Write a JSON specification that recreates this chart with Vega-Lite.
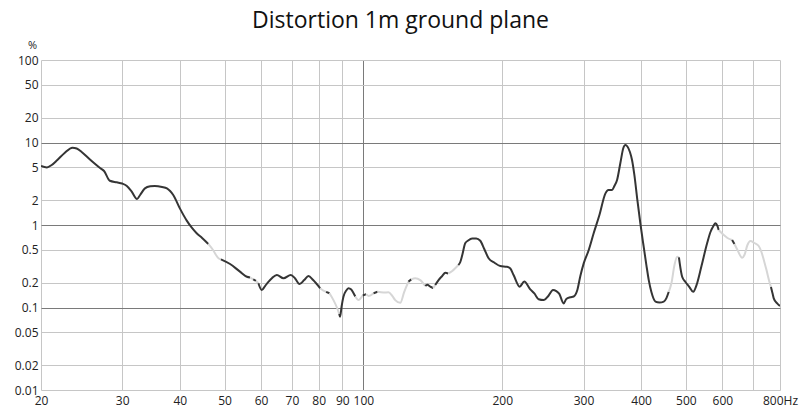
{
  "$schema": "https://vega.github.io/schema/vega-lite/v6.json",
  "width": 739,
  "height": 330,
  "autosize": {"type": "none"},
  "padding": {"left": 41, "top": 60, "right": 20, "bottom": 25},
  "background": "#ffffff",
  "title": {
    "text": "Distortion 1m ground plane",
    "font": "Open Sans",
    "fontSize": 23,
    "fontWeight": "normal",
    "color": "#111111",
    "baseline": "alphabetic",
    "offset": -12,
    "dx": -10
  },
  "config": {
    "font": "Open Sans",
    "view": {"stroke": null},
    "axis": {"domain": false, "ticks": false, "labelFont": "Open Sans", "labelFontSize": 12, "labelColor": "#222222"}
  },
  "data": {
    "values": [
      {"f": 20, "v": 5.19, "s": 1, "c": "dark"},
      {"f": 20.6, "v": 4.98, "s": 1, "c": "dark"},
      {"f": 21.1, "v": 5.34, "s": 1, "c": "dark"},
      {"f": 21.7, "v": 6.14, "s": 1, "c": "dark"},
      {"f": 22.5, "v": 7.46, "s": 1, "c": "dark"},
      {"f": 23.4, "v": 8.65, "s": 1, "c": "dark"},
      {"f": 23.9, "v": 8.46, "s": 1, "c": "dark"},
      {"f": 24.5, "v": 7.67, "s": 1, "c": "dark"},
      {"f": 25.5, "v": 6.26, "s": 1, "c": "dark"},
      {"f": 26.9, "v": 4.87, "s": 1, "c": "dark"},
      {"f": 27.4, "v": 4.51, "s": 1, "c": "dark"},
      {"f": 28.2, "v": 3.44, "s": 1, "c": "dark"},
      {"f": 29.2, "v": 3.29, "s": 1, "c": "dark"},
      {"f": 30.0, "v": 3.18, "s": 1, "c": "dark"},
      {"f": 30.7, "v": 2.97, "s": 1, "c": "dark"},
      {"f": 31.4, "v": 2.58, "s": 1, "c": "dark"},
      {"f": 32.3, "v": 2.07, "s": 1, "c": "dark"},
      {"f": 32.8, "v": 2.31, "s": 1, "c": "dark"},
      {"f": 33.6, "v": 2.78, "s": 1, "c": "dark"},
      {"f": 34.5, "v": 2.94, "s": 1, "c": "dark"},
      {"f": 35.3, "v": 2.97, "s": 1, "c": "dark"},
      {"f": 36.6, "v": 2.89, "s": 1, "c": "dark"},
      {"f": 37.5, "v": 2.78, "s": 1, "c": "dark"},
      {"f": 38.1, "v": 2.58, "s": 1, "c": "dark"},
      {"f": 38.7, "v": 2.31, "s": 1, "c": "dark"},
      {"f": 40.0, "v": 1.59, "s": 1, "c": "dark"},
      {"f": 41.4, "v": 1.13, "s": 1, "c": "dark"},
      {"f": 42.5, "v": 0.92, "s": 1, "c": "dark"},
      {"f": 43.5, "v": 0.793, "s": 1, "c": "dark"},
      {"f": 44.7, "v": 0.696, "s": 1, "c": "dark"},
      {"f": 46.1, "v": 0.589, "s": 1, "c": "dark"},
      {"f": 46.1, "v": 0.589, "s": 2, "c": "light"},
      {"f": 47.2, "v": 0.498, "s": 2, "c": "light"},
      {"f": 48.5, "v": 0.395, "s": 2, "c": "light"},
      {"f": 49.1, "v": 0.384, "s": 2, "c": "light"},
      {"f": 49.1, "v": 0.384, "s": 3, "c": "dark"},
      {"f": 51.4, "v": 0.337, "s": 3, "c": "dark"},
      {"f": 54.0, "v": 0.272, "s": 3, "c": "dark"},
      {"f": 55.9, "v": 0.236, "s": 3, "c": "dark"},
      {"f": 56.8, "v": 0.231, "s": 3, "c": "dark"},
      {"f": 56.8, "v": 0.231, "s": 4, "c": "light"},
      {"f": 57.7, "v": 0.219, "s": 4, "c": "light"},
      {"f": 57.7, "v": 0.219, "s": 5, "c": "dark"},
      {"f": 58.5, "v": 0.21, "s": 5, "c": "dark"},
      {"f": 58.5, "v": 0.21, "s": 6, "c": "light"},
      {"f": 59.2, "v": 0.197, "s": 6, "c": "light"},
      {"f": 59.2, "v": 0.197, "s": 7, "c": "dark"},
      {"f": 60.2, "v": 0.163, "s": 7, "c": "dark"},
      {"f": 61.2, "v": 0.182, "s": 7, "c": "dark"},
      {"f": 62.3, "v": 0.206, "s": 7, "c": "dark"},
      {"f": 63.4, "v": 0.228, "s": 7, "c": "dark"},
      {"f": 64.9, "v": 0.248, "s": 7, "c": "dark"},
      {"f": 67.1, "v": 0.226, "s": 7, "c": "dark"},
      {"f": 69.6, "v": 0.248, "s": 7, "c": "dark"},
      {"f": 71.1, "v": 0.225, "s": 7, "c": "dark"},
      {"f": 72.7, "v": 0.193, "s": 7, "c": "dark"},
      {"f": 74.4, "v": 0.215, "s": 7, "c": "dark"},
      {"f": 76.0, "v": 0.241, "s": 7, "c": "dark"},
      {"f": 77.8, "v": 0.215, "s": 7, "c": "dark"},
      {"f": 80.6, "v": 0.171, "s": 7, "c": "dark"},
      {"f": 80.6, "v": 0.171, "s": 8, "c": "light"},
      {"f": 81.9, "v": 0.16, "s": 8, "c": "light"},
      {"f": 83.0, "v": 0.155, "s": 8, "c": "light"},
      {"f": 83.0, "v": 0.155, "s": 9, "c": "dark"},
      {"f": 84.4, "v": 0.149, "s": 9, "c": "dark"},
      {"f": 84.4, "v": 0.149, "s": 10, "c": "light"},
      {"f": 86.1, "v": 0.123, "s": 10, "c": "light"},
      {"f": 87.7, "v": 0.0986, "s": 10, "c": "light"},
      {"f": 88.6, "v": 0.0834, "s": 10, "c": "light"},
      {"f": 88.6, "v": 0.0834, "s": 11, "c": "dark"},
      {"f": 89.0, "v": 0.0773, "s": 11, "c": "dark"},
      {"f": 89.7, "v": 0.104, "s": 11, "c": "dark"},
      {"f": 90.5, "v": 0.135, "s": 11, "c": "dark"},
      {"f": 91.8, "v": 0.161, "s": 11, "c": "dark"},
      {"f": 92.8, "v": 0.171, "s": 11, "c": "dark"},
      {"f": 94.1, "v": 0.165, "s": 11, "c": "dark"},
      {"f": 95.2, "v": 0.149, "s": 11, "c": "dark"},
      {"f": 96.0, "v": 0.136, "s": 11, "c": "dark"},
      {"f": 96.0, "v": 0.136, "s": 12, "c": "light"},
      {"f": 97.6, "v": 0.123, "s": 12, "c": "light"},
      {"f": 98.9, "v": 0.132, "s": 12, "c": "light"},
      {"f": 99.7, "v": 0.14, "s": 12, "c": "light"},
      {"f": 99.7, "v": 0.14, "s": 13, "c": "dark"},
      {"f": 101.4, "v": 0.145, "s": 13, "c": "dark"},
      {"f": 101.4, "v": 0.145, "s": 14, "c": "light"},
      {"f": 102.6, "v": 0.138, "s": 14, "c": "light"},
      {"f": 105.2, "v": 0.149, "s": 14, "c": "light"},
      {"f": 105.2, "v": 0.149, "s": 15, "c": "dark"},
      {"f": 107.3, "v": 0.155, "s": 15, "c": "dark"},
      {"f": 107.3, "v": 0.155, "s": 16, "c": "light"},
      {"f": 110.5, "v": 0.152, "s": 16, "c": "light"},
      {"f": 113.3, "v": 0.153, "s": 16, "c": "light"},
      {"f": 115.5, "v": 0.138, "s": 16, "c": "light"},
      {"f": 117.2, "v": 0.123, "s": 16, "c": "light"},
      {"f": 120.2, "v": 0.114, "s": 16, "c": "light"},
      {"f": 122.6, "v": 0.155, "s": 16, "c": "light"},
      {"f": 125.2, "v": 0.206, "s": 16, "c": "light"},
      {"f": 125.2, "v": 0.206, "s": 17, "c": "dark"},
      {"f": 127.0, "v": 0.219, "s": 17, "c": "dark"},
      {"f": 127.0, "v": 0.219, "s": 18, "c": "light"},
      {"f": 129.5, "v": 0.226, "s": 18, "c": "light"},
      {"f": 132.8, "v": 0.215, "s": 18, "c": "light"},
      {"f": 136.2, "v": 0.182, "s": 18, "c": "light"},
      {"f": 136.2, "v": 0.182, "s": 19, "c": "dark"},
      {"f": 137.5, "v": 0.189, "s": 19, "c": "dark"},
      {"f": 139.6, "v": 0.179, "s": 19, "c": "dark"},
      {"f": 141.7, "v": 0.172, "s": 19, "c": "dark"},
      {"f": 141.7, "v": 0.172, "s": 20, "c": "light"},
      {"f": 143.1, "v": 0.187, "s": 20, "c": "light"},
      {"f": 143.1, "v": 0.187, "s": 21, "c": "dark"},
      {"f": 145.5, "v": 0.215, "s": 21, "c": "dark"},
      {"f": 148.2, "v": 0.241, "s": 21, "c": "dark"},
      {"f": 150.5, "v": 0.264, "s": 21, "c": "dark"},
      {"f": 152.7, "v": 0.258, "s": 21, "c": "dark"},
      {"f": 152.7, "v": 0.258, "s": 22, "c": "light"},
      {"f": 155.8, "v": 0.277, "s": 22, "c": "light"},
      {"f": 158.1, "v": 0.299, "s": 22, "c": "light"},
      {"f": 160.6, "v": 0.327, "s": 22, "c": "light"},
      {"f": 160.6, "v": 0.327, "s": 23, "c": "dark"},
      {"f": 162.2, "v": 0.356, "s": 23, "c": "dark"},
      {"f": 163.8, "v": 0.433, "s": 23, "c": "dark"},
      {"f": 166.2, "v": 0.6, "s": 23, "c": "dark"},
      {"f": 168.7, "v": 0.649, "s": 23, "c": "dark"},
      {"f": 172.1, "v": 0.686, "s": 23, "c": "dark"},
      {"f": 175.6, "v": 0.686, "s": 23, "c": "dark"},
      {"f": 179.2, "v": 0.645, "s": 23, "c": "dark"},
      {"f": 182.8, "v": 0.512, "s": 23, "c": "dark"},
      {"f": 186.8, "v": 0.395, "s": 23, "c": "dark"},
      {"f": 192.1, "v": 0.351, "s": 23, "c": "dark"},
      {"f": 198.0, "v": 0.318, "s": 23, "c": "dark"},
      {"f": 204.8, "v": 0.312, "s": 23, "c": "dark"},
      {"f": 208.2, "v": 0.297, "s": 23, "c": "dark"},
      {"f": 211.6, "v": 0.248, "s": 23, "c": "dark"},
      {"f": 218.1, "v": 0.179, "s": 23, "c": "dark"},
      {"f": 223.2, "v": 0.206, "s": 23, "c": "dark"},
      {"f": 230.0, "v": 0.166, "s": 23, "c": "dark"},
      {"f": 234.7, "v": 0.148, "s": 23, "c": "dark"},
      {"f": 239.8, "v": 0.126, "s": 23, "c": "dark"},
      {"f": 245.8, "v": 0.123, "s": 23, "c": "dark"},
      {"f": 251.7, "v": 0.138, "s": 23, "c": "dark"},
      {"f": 257.6, "v": 0.163, "s": 23, "c": "dark"},
      {"f": 261.9, "v": 0.158, "s": 23, "c": "dark"},
      {"f": 265.9, "v": 0.146, "s": 23, "c": "dark"},
      {"f": 271.7, "v": 0.112, "s": 23, "c": "dark"},
      {"f": 275.3, "v": 0.127, "s": 23, "c": "dark"},
      {"f": 280.9, "v": 0.133, "s": 23, "c": "dark"},
      {"f": 285.6, "v": 0.136, "s": 23, "c": "dark"},
      {"f": 290.9, "v": 0.163, "s": 23, "c": "dark"},
      {"f": 295.3, "v": 0.241, "s": 23, "c": "dark"},
      {"f": 300.3, "v": 0.343, "s": 23, "c": "dark"},
      {"f": 307.4, "v": 0.484, "s": 23, "c": "dark"},
      {"f": 315.6, "v": 0.793, "s": 23, "c": "dark"},
      {"f": 324.8, "v": 1.32, "s": 23, "c": "dark"},
      {"f": 334.7, "v": 2.42, "s": 23, "c": "dark"},
      {"f": 339.7, "v": 2.66, "s": 23, "c": "dark"},
      {"f": 346.0, "v": 2.66, "s": 23, "c": "dark"},
      {"f": 350.0, "v": 2.97, "s": 23, "c": "dark"},
      {"f": 354.7, "v": 3.51, "s": 23, "c": "dark"},
      {"f": 360.6, "v": 5.64, "s": 23, "c": "dark"},
      {"f": 366.0, "v": 8.58, "s": 23, "c": "dark"},
      {"f": 369.8, "v": 9.33, "s": 23, "c": "dark"},
      {"f": 373.5, "v": 8.94, "s": 23, "c": "dark"},
      {"f": 378.2, "v": 7.67, "s": 23, "c": "dark"},
      {"f": 382.2, "v": 6.14, "s": 23, "c": "dark"},
      {"f": 386.7, "v": 4.04, "s": 23, "c": "dark"},
      {"f": 392.5, "v": 2.01, "s": 23, "c": "dark"},
      {"f": 398.4, "v": 1.05, "s": 23, "c": "dark"},
      {"f": 404.6, "v": 0.572, "s": 23, "c": "dark"},
      {"f": 410.6, "v": 0.327, "s": 23, "c": "dark"},
      {"f": 415.5, "v": 0.215, "s": 23, "c": "dark"},
      {"f": 421.0, "v": 0.154, "s": 23, "c": "dark"},
      {"f": 429.6, "v": 0.118, "s": 23, "c": "dark"},
      {"f": 438.3, "v": 0.115, "s": 23, "c": "dark"},
      {"f": 447.8, "v": 0.118, "s": 23, "c": "dark"},
      {"f": 453.8, "v": 0.13, "s": 23, "c": "dark"},
      {"f": 459.1, "v": 0.155, "s": 23, "c": "dark"},
      {"f": 459.1, "v": 0.155, "s": 24, "c": "light"},
      {"f": 465.4, "v": 0.198, "s": 24, "c": "light"},
      {"f": 472.4, "v": 0.327, "s": 24, "c": "light"},
      {"f": 478.8, "v": 0.413, "s": 24, "c": "light"},
      {"f": 483.1, "v": 0.404, "s": 24, "c": "light"},
      {"f": 483.1, "v": 0.404, "s": 25, "c": "dark"},
      {"f": 485.0, "v": 0.343, "s": 25, "c": "dark"},
      {"f": 490.9, "v": 0.236, "s": 25, "c": "dark"},
      {"f": 499.0, "v": 0.204, "s": 25, "c": "dark"},
      {"f": 509.0, "v": 0.177, "s": 25, "c": "dark"},
      {"f": 518.6, "v": 0.155, "s": 25, "c": "dark"},
      {"f": 529.0, "v": 0.197, "s": 25, "c": "dark"},
      {"f": 540.6, "v": 0.318, "s": 25, "c": "dark"},
      {"f": 556.0, "v": 0.6, "s": 25, "c": "dark"},
      {"f": 565.4, "v": 0.823, "s": 25, "c": "dark"},
      {"f": 573.8, "v": 0.973, "s": 25, "c": "dark"},
      {"f": 579.5, "v": 1.05, "s": 25, "c": "dark"},
      {"f": 585.3, "v": 0.973, "s": 25, "c": "dark"},
      {"f": 589.0, "v": 0.87, "s": 25, "c": "dark"},
      {"f": 589.0, "v": 0.87, "s": 26, "c": "light"},
      {"f": 604.0, "v": 0.757, "s": 26, "c": "light"},
      {"f": 615.4, "v": 0.696, "s": 26, "c": "light"},
      {"f": 630.0, "v": 0.658, "s": 26, "c": "light"},
      {"f": 630.0, "v": 0.658, "s": 27, "c": "dark"},
      {"f": 637.3, "v": 0.589, "s": 27, "c": "dark"},
      {"f": 637.3, "v": 0.589, "s": 28, "c": "light"},
      {"f": 647.0, "v": 0.498, "s": 28, "c": "light"},
      {"f": 662.2, "v": 0.401, "s": 28, "c": "light"},
      {"f": 669.8, "v": 0.433, "s": 28, "c": "light"},
      {"f": 680.0, "v": 0.572, "s": 28, "c": "light"},
      {"f": 690.2, "v": 0.64, "s": 28, "c": "light"},
      {"f": 704.0, "v": 0.605, "s": 28, "c": "light"},
      {"f": 719.4, "v": 0.557, "s": 28, "c": "light"},
      {"f": 729.2, "v": 0.471, "s": 28, "c": "light"},
      {"f": 737.6, "v": 0.38, "s": 28, "c": "light"},
      {"f": 747.6, "v": 0.286, "s": 28, "c": "light"},
      {"f": 759.0, "v": 0.204, "s": 28, "c": "light"},
      {"f": 764.6, "v": 0.177, "s": 28, "c": "light"},
      {"f": 764.6, "v": 0.177, "s": 29, "c": "dark"},
      {"f": 770.4, "v": 0.15, "s": 29, "c": "dark"},
      {"f": 775.4, "v": 0.129, "s": 29, "c": "dark"},
      {"f": 788.8, "v": 0.112, "s": 29, "c": "dark"},
      {"f": 800, "v": 0.104, "s": 29, "c": "dark"}
    ]
  },
  "mark": {"type": "line", "strokeWidth": 2, "interpolate": "monotone", "clip": true},
  "encoding": {
    "x": {
      "field": "f",
      "type": "quantitative",
      "scale": {"type": "log", "domain": [20, 800], "nice": false},
      "axis": {
        "values": [20, 30, 40, 50, 60, 70, 80, 90, 100, 200, 300, 400, 500, 600, 700, 800],
        "labelExpr": "datum.value == 700 ? '' : datum.value == 800 ? '800Hz' : format(datum.value, 'd')",
        "labelPadding": 5,
        "labelFlush": false,
        "labelOverlap": false,
        "title": null,
        "grid": true,
        "gridColor": {"condition": {"test": "datum.value == 100", "value": "#7a7a7a"}, "value": "#c6c6c6"},
        "gridWidth": 1,
        "zindex": 0
      }
    },
    "y": {
      "field": "v",
      "type": "quantitative",
      "scale": {"type": "log", "domain": [0.01, 100], "nice": false},
      "axis": {
        "values": [0.01, 0.02, 0.05, 0.1, 0.2, 0.5, 1, 2, 5, 10, 20, 50, 100],
        "format": "~g",
        "labelPadding": 3,
        "labelFlush": false,
        "labelOverlap": false,
        "title": "%",
        "titleAngle": 0,
        "titleFont": "Open Sans",
        "titleFontSize": 11,
        "titleFontWeight": "normal",
        "titleColor": "#222222",
        "titleAlign": "center",
        "titleBaseline": "alphabetic",
        "titleX": -9,
        "titleY": -12,
        "grid": true,
        "gridColor": {"condition": {"test": "datum.value == 10 || datum.value == 1 || datum.value == 0.1", "value": "#7a7a7a"}, "value": "#c6c6c6"},
        "gridWidth": 1,
        "zindex": 0
      }
    },
    "color": {
      "field": "c",
      "type": "nominal",
      "scale": {"domain": ["dark", "light"], "range": ["#353535", "#d6d6d6"]},
      "legend": null
    },
    "detail": {"field": "s", "type": "nominal"}
  }
}
